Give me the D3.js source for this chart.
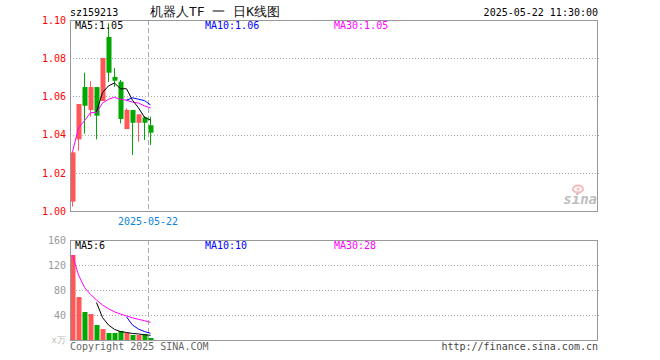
<!DOCTYPE html>
<html><head><meta charset="utf-8">
<script src="https://cdn.jsdelivr.net/npm/d3@7/dist/d3.min.js"></script>
<style>
html,body{margin:0;padding:0;background:#fff;}
text{font-family:"DejaVu Sans Mono",monospace;}
</style></head>
<body><svg id="c" width="660" height="360"></svg>
<script>
// ---- data ----
const code = "sz159213";
const title = "机器人TF 一 日K线图";
const stamp = "2025-05-22 11:30:00";
const dateLabel = "2025-05-22";
const open  = [1.0049,1.0375,1.0649,1.0529,1.0649,1.0576,1.0911,1.0702,1.0677,1.0429,1.0529,1.0462,1.0490,1.0449];
const high  = [1.0310,1.0560,1.0724,1.0680,1.0649,1.0801,1.0983,1.0748,1.0686,1.0538,1.0529,1.0506,1.0497,1.0494];
const low   = [1.0023,1.0316,1.0405,1.0494,1.0375,1.0576,1.0675,1.0650,1.0459,1.0429,1.0293,1.0363,1.0372,1.0346];
const close = [1.0307,1.0560,1.0551,1.0649,1.0499,1.0801,1.0724,1.0682,1.0482,1.0529,1.0462,1.0506,1.0462,1.0410];
const volume = [136,68.8,44.8,41.6,24,17.6,11.2,11.2,14.4,11.2,8,8,9,3.2];
const ma5  = [null,null,null,null,1.0520,1.0620,1.0655,1.0670,1.0640,1.0640,1.0580,1.0540,1.0490,1.0476];
const ma10 = [null,null,null,null,null,null,null,null,null,1.0580,1.0593,1.0585,1.0578,1.0555];
const ma30 = [1.0310,1.0435,1.0473,1.0515,1.0515,1.0565,1.0585,1.0595,1.0585,1.0580,1.0570,1.0565,1.0550,1.0540];
const vma5  = [null,null,null,null,60,36,24,17,13.5,12,10.5,9.7,8.5,7.5];
const vma10 = [null,null,null,null,null,null,null,null,null,37,24,17.5,13.5,10.7];
const vma30 = [136,104,84,73,64,56,50,45,41.5,38.5,35.5,33,31,28.3];
const priceTicks = [1.00,1.02,1.04,1.06,1.08,1.10];
const volTicks = [40,80,120,160];
const maLabels = ["MA5:1.05","MA10:1.06","MA30:1.05"];
const vmaLabels = ["MA5:6","MA10:10","MA30:28"];
const unitLabel = "x万";
const copyright = "Copyright 2025 SINA.COM";
const url = "http://finance.sina.com.cn";

// ---- layout ----
const L = 70, R = 598, mT = 20, mB = 211, vT = 240, vB = 340;
const slots = 88;
const RED = "#ff5656", GREEN = "#00a800";
const maColors = ["#000000","#0000ff","#ff00ff"];

const svg = d3.select("#c");
const x = d3.scaleLinear().domain([0, slots]).range([L, R]);
const y = d3.scaleLinear().domain([1.00, 1.10]).range([mB, mT]);
const yv = d3.scaleLinear().domain([0, 160]).range([vB, vT]);
const idx = d3.range(open.length);
const up = i => close[i] >= open[i];

// header
svg.append("text").attr("x", L).attr("y", 16).attr("font-size", 10).attr("fill", "#000").text(code);
svg.append("text").attr("x", 150).attr("y", 16).attr("font-size", 13)
  .attr("font-family", "'Noto Sans CJK SC',sans-serif").attr("fill", "#111").text(title);
svg.append("text").attr("x", R).attr("y", 16).attr("font-size", 10).attr("text-anchor", "end").attr("fill", "#000").text(stamp);

// grids
function grid(scale, ticks, skip) {
  svg.append("g").selectAll("line").data(ticks.filter(t => !skip.includes(t))).join("line")
    .attr("x1", L).attr("x2", R + 1)
    .attr("y1", d => Math.round(scale(d)) + 0.5).attr("y2", d => Math.round(scale(d)) + 0.5)
    .attr("stroke", "#aaa").attr("stroke-dasharray", "1,2");
}
grid(y, priceTicks, [1.00, 1.10]);
grid(yv, volTicks, [160]);

// sina watermark
const wm = svg.append("g").attr("opacity", 0.55);
wm.append("ellipse").attr("cx", 578).attr("cy", 189).attr("rx", 5).attr("ry", 3.5).attr("fill", "none").attr("stroke", "#f08080").attr("stroke-width", 2);
wm.append("circle").attr("cx", 578).attr("cy", 189).attr("r", 1.5).attr("fill", "#f08080");
wm.append("text").attr("x", 597).attr("y", 204).attr("text-anchor", "end").attr("font-size", 14)
  .attr("font-family", "'DejaVu Sans',sans-serif").attr("font-style", "italic").attr("font-weight", "bold").attr("fill", "#888").text("sina");

// dashed current-date line
[[mT, mB], [vT, vB]].forEach(([a, b]) => {
  svg.append("line").attr("x1", x(13) + 0.5).attr("x2", x(13) + 0.5).attr("y1", a).attr("y2", b)
    .attr("stroke", "#aaa").attr("stroke-dasharray", "5,3");
});

// candles
const cg = svg.append("g");
cg.selectAll("rect.w").data(idx).join("rect").attr("class", "w")
  .attr("x", i => x(i) + 2).attr("width", 1)
  .attr("y", i => y(high[i])).attr("height", i => Math.max(1, y(low[i]) - y(high[i])))
  .attr("fill", i => up(i) ? RED : GREEN);
cg.selectAll("rect.b").data(idx).join("rect").attr("class", "b")
  .attr("x", i => x(i) + 0.5).attr("width", 5)
  .attr("y", i => y(Math.max(open[i], close[i])))
  .attr("height", i => Math.max(1, Math.abs(y(open[i]) - y(close[i]))))
  .attr("fill", i => up(i) ? RED : GREEN);

// volume bars
svg.append("g").selectAll("rect").data(idx).join("rect")
  .attr("x", i => x(i) + 0.5).attr("width", 5)
  .attr("y", i => yv(volume[i])).attr("height", i => vB - yv(volume[i]))
  .attr("fill", i => up(i) ? RED : GREEN);

// MA lines
function maLine(arr, scale, color) {
  const line = d3.line().defined(d => d != null).x((d, i) => x(i) + 2.5).y(d => scale(d));
  svg.append("path").datum(arr).attr("d", line).attr("fill", "none").attr("stroke", color).attr("stroke-width", 1);
}
maLine(ma30, y, maColors[2]); maLine(ma10, y, maColors[1]); maLine(ma5, y, maColors[0]);
maLine(vma30, yv, maColors[2]); maLine(vma10, yv, maColors[1]); maLine(vma5, yv, maColors[0]);

// borders
[[mT, mB], [vT, vB]].forEach(([a, b]) => {
  svg.append("rect").attr("x", L + 0.5).attr("y", a + 0.5).attr("width", R - L - 1).attr("height", b - a)
    .attr("fill", "none").attr("stroke", "#999");
});

// axis labels
const ay = d3.axisLeft(y).tickValues(priceTicks).tickFormat(d3.format(".2f")).tickSize(0).tickPadding(4);
const gy = svg.append("g").attr("transform", `translate(${L},0)`).call(ay);
gy.select(".domain").remove();
gy.selectAll("text").attr("fill", "#f00").attr("font-size", 10).attr("font-family", "'DejaVu Sans Mono',monospace");
const av = d3.axisLeft(yv).tickValues(volTicks).tickFormat(d3.format("d")).tickSize(0).tickPadding(4);
const gv = svg.append("g").attr("transform", `translate(${L},0)`).call(av);
gv.select(".domain").remove();
gv.selectAll("text").attr("fill", "#999").attr("font-size", 10).attr("font-family", "'DejaVu Sans Mono',monospace");
svg.append("text").attr("x", 66).attr("y", 343).attr("text-anchor", "end").attr("font-size", 9)
  .attr("font-family", "'Noto Sans CJK SC',sans-serif").attr("fill", "#bbb").text(unitLabel);

// date label
svg.append("text").attr("x", x(13)).attr("y", 225).attr("text-anchor", "middle").attr("font-size", 10)
  .attr("fill", "#0a84d8").text(dateLabel);

// MA legends
const lx = [75, 205, 334];
maLabels.forEach((t, k) => svg.append("text").attr("x", lx[k]).attr("y", 29).attr("font-size", 10).attr("fill", maColors[k]).text(t));
vmaLabels.forEach((t, k) => svg.append("text").attr("x", lx[k]).attr("y", 249).attr("font-size", 10).attr("fill", maColors[k]).text(t));

// footer
svg.append("text").attr("x", L).attr("y", 350).attr("font-size", 10).attr("fill", "#666").text(copyright);
svg.append("text").attr("x", R).attr("y", 350).attr("text-anchor", "end").attr("font-size", 10).attr("fill", "#444").text(url);
</script></body></html>
